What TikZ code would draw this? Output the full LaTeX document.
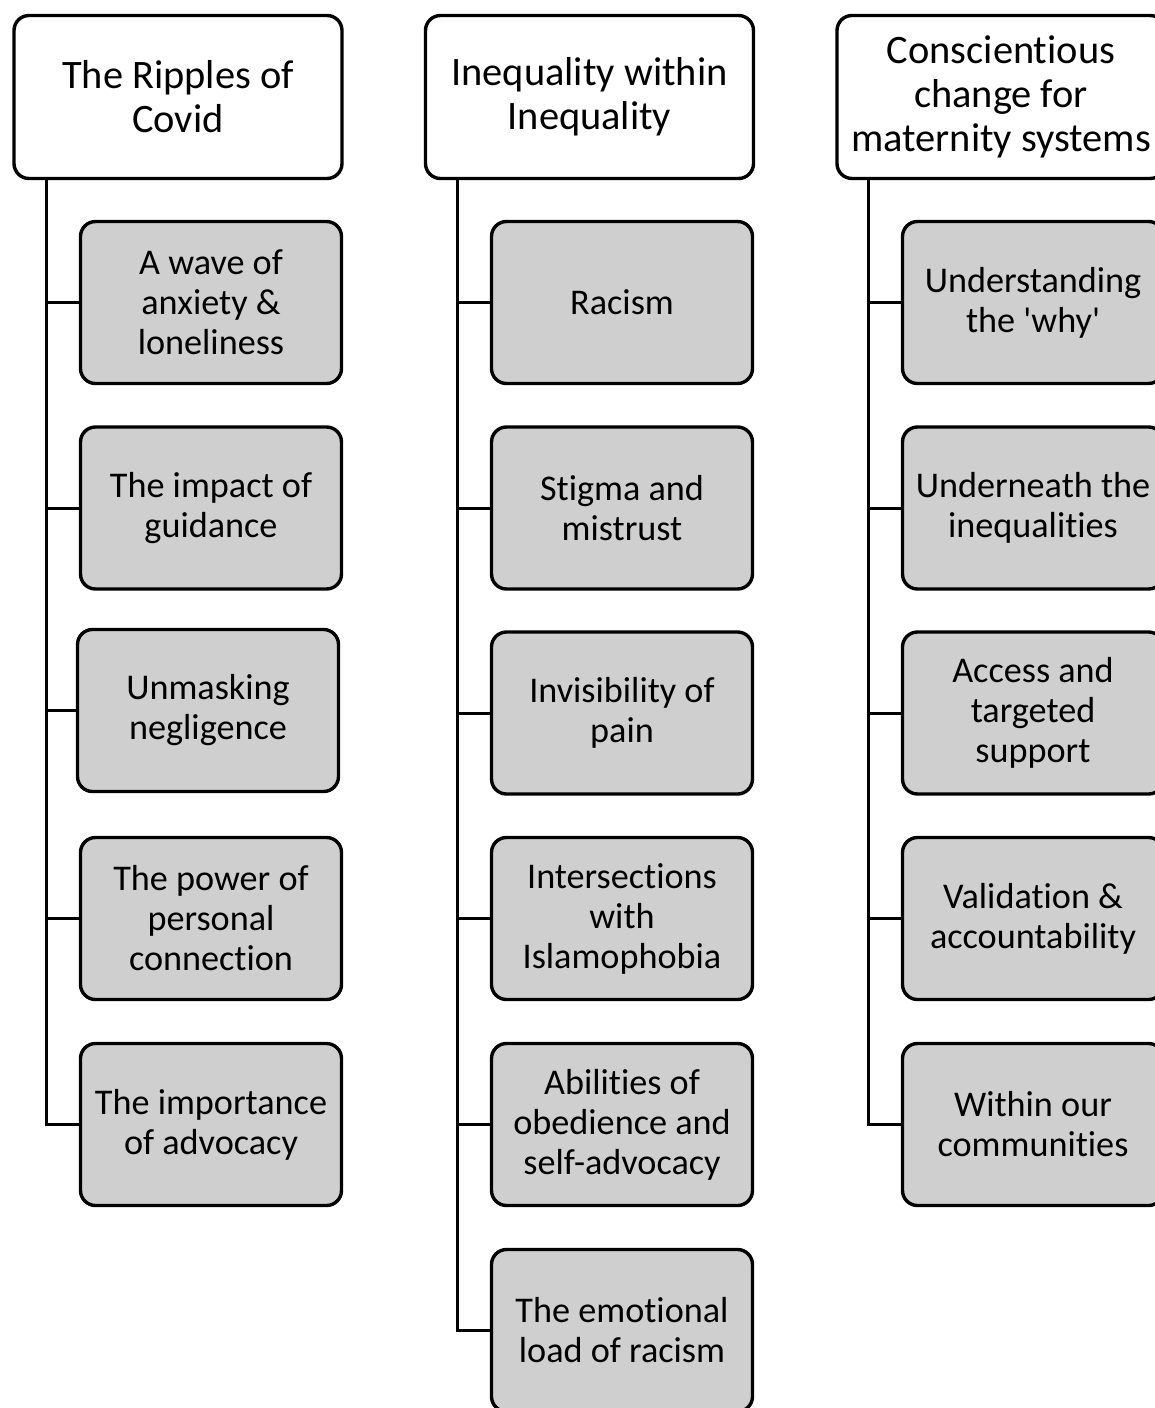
\documentclass[tikz,border=0pt]{standalone}
\usepackage{fontspec}
\setmainfont{Carlito}[Ligatures={TeX,NoCommon}]
\definecolor{boxgray}{RGB}{207,207,207}
\tikzset{
  theme/.style={
    rectangle,
    rounded corners=7.5pt,
    draw,
    line width=1.7pt,
    fill=white,
    minimum width=164pt,
    minimum height=81.5pt,
    inner sep=2pt,
    align=center,
    font=\fontsize{20.2}{22}\selectfont
  },
  sub/.style={
    rectangle,
    rounded corners=7.5pt,
    draw,
    line width=1.7pt,
    fill=boxgray,
    minimum width=130.5pt,
    minimum height=81pt,
    inner sep=2pt,
    align=center,
    font=\fontsize{18.1}{20}\selectfont
  },
  link/.style={line width=1.5pt},
}

\begin{document}
\begin{tikzpicture}[x=0.5pt, y=-0.5pt]
  \useasboundingbox (0,0) rectangle (1155,1408);
  % themes
  \node[theme] (cov) at (178, 97) {The Ripples of\\Covid};
  \node[theme] (ineq) at (589.5, 97) {Inequality within\\Inequality};
  \node[theme] (sys) at (1001, 97) {Conscientious\\change for\\maternity systems};
  % sub-themes
  \node[sub] (cov1) at (211, 302.5) {A wave of\\anxiety \&\\loneliness};
  \node[sub] (cov2) at (211, 508) {The impact of\\guidance};
  \node[sub] (cov3) at (208, 710.5) {Unmasking\\negligence};
  \node[sub] (cov4) at (211, 918.5) {The power of\\personal\\connection};
  \node[sub] (cov5) at (211, 1124.5) {The importance\\of advocacy};
  \node[sub] (ineq1) at (622, 302.5) {Racism};
  \node[sub] (ineq2) at (622, 508) {Stigma and\\mistrust};
  \node[sub] (ineq3) at (622, 713) {Invisibility of\\pain};
  \node[sub] (ineq4) at (622, 918.5) {Intersections\\with\\Islamophobia};
  \node[sub] (ineq5) at (622, 1124.5) {Abilities of\\obedience and\\self-advocacy};
  \node[sub] (ineq6) at (622, 1330.5) {The emotional\\load of racism};
  \node[sub] (sys1) at (1033, 302.5) {Understanding\\the \textquotesingle why\textquotesingle};
  \node[sub] (sys2) at (1033, 508) {Underneath the\\inequalities};
  \node[sub] (sys3) at (1033, 713) {Access and\\targeted\\support};
  \node[sub] (sys4) at (1033, 918.5) {Validation \&\\accountability};
  \node[sub] (sys5) at (1033, 1124.5) {Within our\\communities};
  % spines
  \coordinate (s1) at (46, 0);
  \coordinate (s2) at (457, 0);
  \coordinate (s3) at (868, 0);
  \draw[link] (cov.south -| s1) |- (cov5);
  \draw[link] (ineq.south -| s2) |- (ineq6);
  \draw[link] (sys.south -| s3) |- (sys5);
  \foreach \n in {1,...,4} {
    \draw[link] (cov\n.west -| s1) -- (cov\n);
    \draw[link] (sys\n.west -| s3) -- (sys\n);
  }
  \foreach \n in {1,...,5}
    \draw[link] (ineq\n.west -| s2) -- (ineq\n);
\end{tikzpicture}
\end{document}
